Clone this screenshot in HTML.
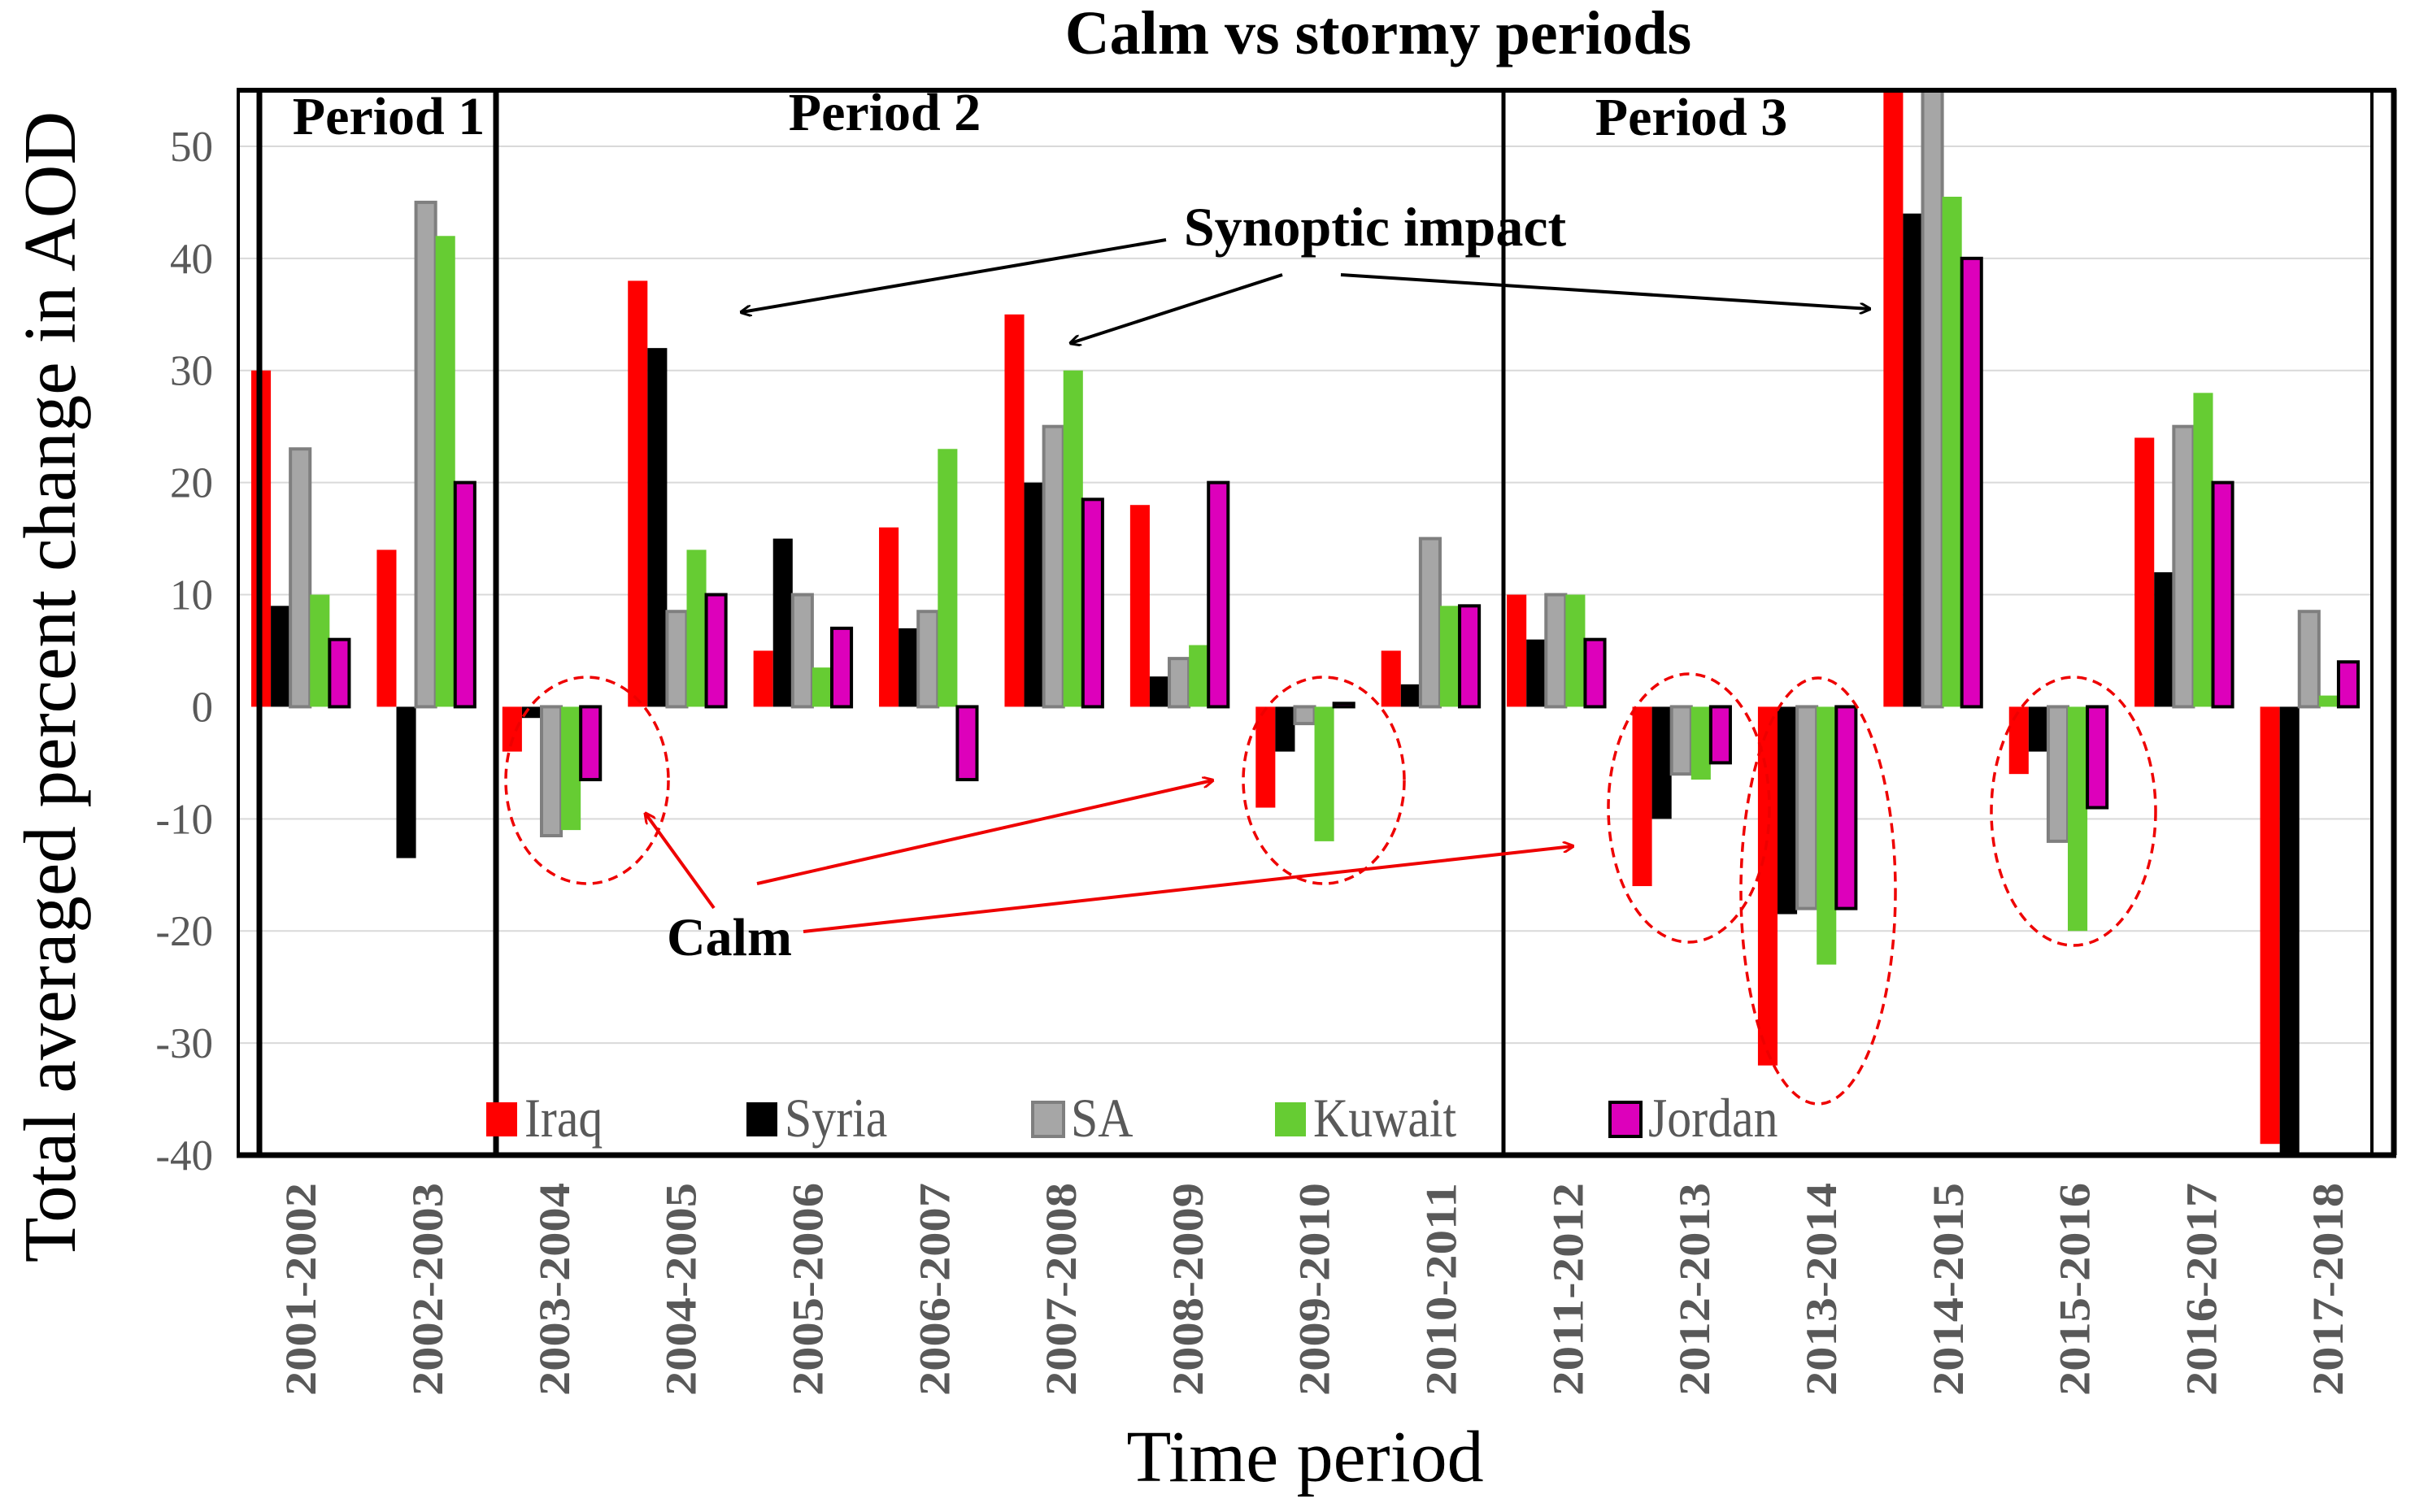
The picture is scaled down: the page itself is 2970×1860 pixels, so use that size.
<!DOCTYPE html>
<html><head><meta charset="utf-8"><style>
html,body{margin:0;padding:0;background:#fff;}
svg{display:block;font-family:"Liberation Serif",serif;}
</style></head><body>
<svg id="chart" width="2970" height="1860" viewBox="0 0 2970 1860">
<g id="grid"></g>
<g id="bars"></g>
<g id="frame">
  <line x1="293" y1="110" x2="293" y2="1421" stroke="#000" stroke-width="4"/>
  <line x1="319" y1="110" x2="319" y2="1421" stroke="#000" stroke-width="7"/>
  <line x1="610" y1="110" x2="610" y2="1421" stroke="#000" stroke-width="7"/>
  <line x1="1849" y1="110" x2="1849" y2="1421" stroke="#000" stroke-width="5"/>
  <line x1="2917" y1="110" x2="2917" y2="1421" stroke="#000" stroke-width="4"/>
  <line x1="2944" y1="110" x2="2944" y2="1421" stroke="#000" stroke-width="7"/>
  <line x1="291" y1="111" x2="2947" y2="111" stroke="#000" stroke-width="6"/>
  <line x1="291" y1="1421" x2="2947" y2="1421" stroke="#000" stroke-width="7"/>
</g>
<g id="yticks"></g>
<g id="xticks"></g>
<text x="1695" y="66" text-anchor="middle" font-size="76" font-weight="bold">Calm vs stormy periods</text>
<text x="478" y="165" text-anchor="middle" font-size="66" font-weight="bold">Period 1</text>
<text x="1088" y="160" text-anchor="middle" font-size="66" font-weight="bold">Period 2</text>
<text x="2080" y="166" text-anchor="middle" font-size="66" font-weight="bold">Period 3</text>
<text x="1691" y="302" text-anchor="middle" font-size="68" font-weight="bold">Synoptic impact</text>
<text x="897" y="1175" text-anchor="middle" font-size="66" font-weight="bold">Calm</text>
<defs>
<marker id="ab" markerWidth="14" markerHeight="14" refX="12" refY="7" orient="auto" markerUnits="userSpaceOnUse"><path d="M0,0 L14,7 L0,14" fill="none" stroke="#000" stroke-width="3"/></marker>
<marker id="ar" markerWidth="14" markerHeight="14" refX="12" refY="7" orient="auto" markerUnits="userSpaceOnUse"><path d="M0,0 L14,7 L0,14" fill="none" stroke="#e00" stroke-width="3"/></marker>
</defs>
<g stroke="#000" stroke-width="4" marker-end="url(#ab)">
  <line x1="1434" y1="295" x2="912" y2="384"/>
  <line x1="1577" y1="338" x2="1317" y2="422"/>
  <line x1="1649" y1="338" x2="2299" y2="380"/>
</g>
<g stroke="#e00" stroke-width="4" marker-end="url(#ar)">
  <line x1="878" y1="1117" x2="794" y2="1001"/>
  <line x1="931" y1="1087" x2="1491" y2="960"/>
  <line x1="988" y1="1146" x2="1934" y2="1041"/>
</g>
<g fill="none" stroke="#e00" stroke-width="3.5" stroke-dasharray="12,8">
  <ellipse cx="722" cy="960" rx="100" ry="127"/>
  <ellipse cx="1628" cy="960" rx="99" ry="127"/>
  <ellipse cx="2077" cy="994" rx="99" ry="165"/>
  <ellipse cx="2236" cy="1096" rx="95" ry="262"/>
  <ellipse cx="2550" cy="998" rx="101" ry="165"/>
</g>
<g id="legend"></g>
<text transform="translate(92,845) rotate(-90)" text-anchor="middle" font-size="91" fill="#000">Total averaged percent change in AOD</text>
<text x="1605" y="1822" text-anchor="middle" font-size="90">Time period</text>
</svg>
<script>
const categories = ["2001-2002","2002-2003","2003-2004","2004-2005","2005-2006","2006-2007","2007-2008","2008-2009","2009-2010","2010-2011","2011-2012","2012-2013","2013-2014","2014-2015","2015-2016","2016-2017","2017-2018"];
const seriesNames = ["Iraq","Syria","SA","Kuwait","Jordan"];
const iraq   = [30,14,-4,38,5,16,35,18,-9,5,10,-16,-32,55,-6,24,-39];
const syria  = [9,-13.5,-1,32,15,7,20,2.7,-4,2,6,-10,-18.5,44,-4,12,-40];
const sa     = [23,45,-11.5,8.5,10,8.5,25,4.3,-1.5,15,10,-6,-18,55,-12,25,8.5];
const kuwait = [10,42,-11,14,3.5,23,30,5.5,-12,9,10,-6.5,-23,45.5,-20,28,1];
const jordan = [6,20,-6.5,10,7,-6.5,18.5,20,0.3,9,6,-5,-18,40,-9,20,4];
const yTicks = [50,40,30,20,10,0,-10,-20,-30,-40];

const NS="http://www.w3.org/2000/svg";
const plotL=292, plotR=2917, yMin=-40, yMax=55, yTop=111, yBot=1421;
const bw=(plotR-plotL)/categories.length;
function y(v){return yTop+(yMax-v)/(yMax-yMin)*(yBot-yTop);}
function xc(i){return plotL+bw*(i+0.5);}
function mk(tag,attrs,parent){const e=document.createElementNS(NS,tag);for(const k in attrs)e.setAttribute(k,attrs[k]);parent.appendChild(e);return e;}

const grid=document.getElementById('grid');
const yt=document.getElementById('yticks');
yTicks.forEach(t=>{
  const l=mk('line',{x1:plotL,x2:plotR,y1:y(t),y2:y(t),stroke:t===0?'#fff':'#d9d9d9','stroke-width':2},grid);
  
  
  const tx=mk('text',{x:262,y:y(t)+18,'text-anchor':'end','font-size':53,fill:'#595959'},yt);
  tx.textContent=t;
  
  
});

const data=[iraq,syria,sa,kuwait,jordan];
const fills=['#ff0000','#000000','#a6a6a6','#66cc33','#dd00bb'];
const strokes=['none','none','#7f7f7f','none','#000'];
const barW=bw*0.156;
const bars=document.getElementById('bars');
categories.forEach((c,i)=>{
  data.forEach((s,k)=>{
    const v=s[i];
    const x=xc(i)-2.5*barW+k*barW;
    const y0=y(0), y1=y(v);
    const r=mk('rect',{x:x,y:Math.min(y0,y1),width:barW,height:Math.max(1,Math.abs(y1-y0)),fill:fills[k],stroke:strokes[k],'stroke-width':4},bars);
    
    
  });
  const t=mk('text',{transform:`translate(${xc(i)+19+i*1.4},1455) rotate(-90)`,'text-anchor':'end','font-size':54,'font-weight':'bold',fill:'#595959',textLength:262,lengthAdjust:'spacingAndGlyphs'},document.getElementById('xticks'));
  t.textContent=c;
  
  
});

const lg=document.getElementById('legend');
const lgx=[598,918,1270,1568,1980];
seriesNames.forEach((n,k)=>{
  const r=mk('rect',{x:lgx[k],y:1356,width:38,height:42,fill:fills[k],stroke:strokes[k],'stroke-width':4},lg);
  
  
  const t=mk('text',{x:lgx[k]+47,y:1398,'font-size':68,fill:'#595959',transform:`translate(${(lgx[k]+47)*0.12},0) scale(0.88,1)`},lg);
  t.textContent=n;
  
  
});
</script>
</body></html>
